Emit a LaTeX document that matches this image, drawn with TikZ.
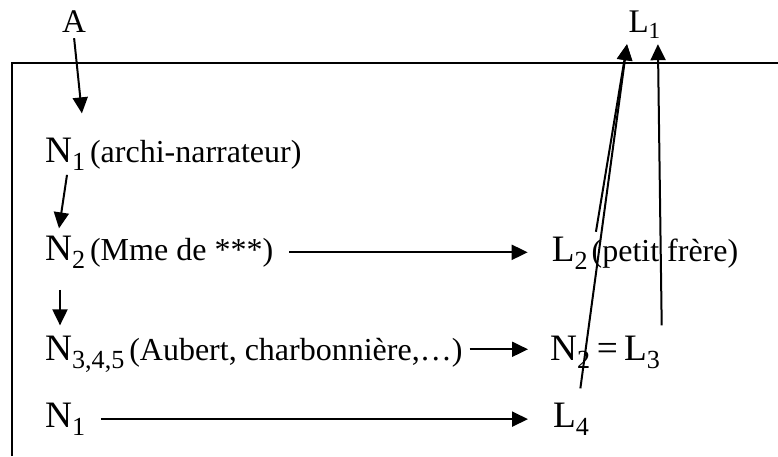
\documentclass[tikz,border=0pt]{standalone}
\usepackage{fontspec}
\setmainfont{Liberation Serif}
\usetikzlibrary{arrows.meta, positioning}

\begin{document}
\begin{tikzpicture}[
  x=1pt, y=-1pt,
  lbl/.style={
    inner sep=0pt, anchor=base west,
    font=\fontsize{37.3}{44}\selectfont
  },
  toplbl/.style={
    inner sep=0pt, anchor=base west,
    font=\fontsize{33}{39}\selectfont
  },
  gloss/.style={
    inner sep=0pt, anchor=base west,
    font=\fontsize{32}{38}\selectfont
  },
  arr/.style={-{Triangle[length=16pt, width=15pt]}, line width=2pt},
  frame/.style={line width=2pt},
]
\useasboundingbox (0,0) rectangle (778,456);

%% Frame (open to the right and below)
\draw[frame] (12,456) -- (12,62.5) -- (778,62.5);

%% Top labels
\node[toplbl] (a)  at (62,32)     {A};
\node[toplbl] (l1) at (628.3,32.3) {L\textsubscript{1}};

%% Left column -- narrators
\node[lbl] (n1) at (45,162) {N\textsubscript{1}};
\node[gloss, right=4pt of n1.base east, anchor=base west] (n1g) {(archi-narrateur)};
\node[lbl] (n2) at (45,260) {N\textsubscript{2}};
\node[gloss, right=4pt of n2.base east, anchor=base west] (n2g) {(Mme de ***)};
\node[lbl] (n3) at (45,360) {N\textsubscript{3,4,5}};
\node[gloss, right=4pt of n3.base east, anchor=base west] (n3g) {(Aubert, charbonnière,…)};
\node[lbl] (n1b) at (45,427) {N\textsubscript{1}};

%% Right column -- readers
\node[lbl] (l2) at (551.7,261) {L\textsubscript{2}};
\node[gloss, right=3pt of l2.base east, anchor=base west] (l2g) {(petit frère)};
\node[lbl] (l3) at (550,360) {N\textsubscript{2}\,=\,L\textsubscript{3}};
\node[lbl] (l4) at (553,427) {L\textsubscript{4}};

%% Arrows: down the left column
\draw[arr] ([yshift=-6pt]a.south) -- ([xshift=-4pt, yshift=24pt]n1.north east);
\draw[arr] ([xshift=22pt, yshift=-4pt]n1.south west) -- ([xshift=14pt, yshift=7pt]n2.north west);
\draw[arr] ([xshift=15pt, yshift=-21pt]n2.south west) -- ([xshift=15pt, yshift=10pt]n3.north west);

%% Arrows: left to right
\draw[arr, shorten <=16pt, shorten >=24pt] (n2g.east) -- (n2g.east -| l2.west);
\draw[arr, shorten <=7pt,  shorten >=22pt] ([yshift=3pt]n3g.east) -- ([yshift=3pt]n3g.east -| l3.west);
\draw[arr, shorten <=15pt, shorten >=25pt] (n1b.east) -- (n1b.east -| l4.west);

%% Arrows: up to L1
\draw[arr] ([xshift=7.5pt, yshift=4.6pt]l2.north east) -- ([xshift=-1.3pt, yshift=-5pt]l1.south west);
\draw[arr] ([xshift=9pt, yshift=14pt]l4.north) -- ([xshift=-1.3pt, yshift=-5pt]l1.south west);
\draw[arr] ([xshift=1pt, yshift=10pt]l3.north east) -- ([xshift=-3pt, yshift=-5pt]l1.south east);
\end{tikzpicture}
\end{document}
